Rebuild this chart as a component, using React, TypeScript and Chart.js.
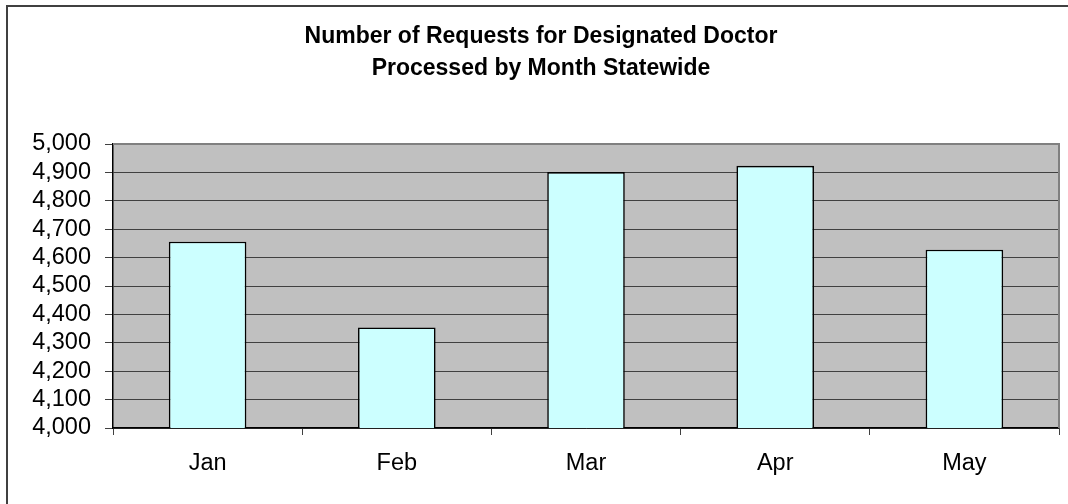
import React, { useEffect, useRef } from "react";
import { Chart, registerables } from "chart.js";

Chart.register(...registerables);

const titleLines = ["Number of Requests for Designated Doctor", "Processed by Month Statewide"];
const months = ["Jan", "Feb", "Mar", "Apr", "May"];
const requests = [4656, 4354, 4901, 4923, 4628];
const yMin = 4000;
const yMax = 5000;
const yStep = 100;

const FONT = "'Liberation Sans', Arial, sans-serif";

const framePlugin = {
  id: "frame",
  beforeDraw(chart: any) {
    const { ctx, chartArea } = chart;
    ctx.save();
    ctx.fillStyle = "#ffffff";
    ctx.fillRect(0, 0, chart.width, chart.height);
    ctx.fillStyle = "#C0C0C0";
    ctx.fillRect(chartArea.left, chartArea.top, chartArea.right - chartArea.left, chartArea.bottom - chartArea.top);
    // outer chart border (left and top visible)
    ctx.strokeStyle = "#404040";
    ctx.lineWidth = 2;
    ctx.beginPath();
    ctx.moveTo(7, chart.height + 5);
    ctx.lineTo(7, 6);
    ctx.lineTo(chart.width + 5, 6);
    ctx.stroke();
    // title
    ctx.fillStyle = "#000000";
    ctx.font = `bold 23px ${FONT}`;
    ctx.textAlign = "center";
    ctx.textBaseline = "middle";
    titleLines.forEach((line, i) => {
      ctx.fillText(line, 541, 37 + i * 32);
    });
    ctx.restore();
  },
  afterDatasetsDraw(chart: any) {
    const { ctx, chartArea } = chart;
    ctx.save();
    ctx.strokeStyle = "#808080";
    ctx.lineWidth = 2;
    ctx.beginPath();
    ctx.moveTo(chartArea.left, chartArea.top);
    ctx.lineTo(chartArea.right, chartArea.top);
    ctx.lineTo(chartArea.right, chartArea.bottom);
    ctx.stroke();
    ctx.restore();
  },
};

export default function App() {
  const ref = useRef<HTMLCanvasElement | null>(null);
  useEffect(() => {
    if (!ref.current) return;
    const chart = new Chart(ref.current, {
      type: "bar",
      data: {
        labels: months,
        datasets: [
          {
            data: requests,
            backgroundColor: "#CCFFFF",
            borderColor: "#000000",
            borderWidth: 1.6,
            categoryPercentage: 1,
            barPercentage: 0.41,
          },
        ],
      },
      options: {
        responsive: false,
        animation: false,
        layout: { padding: { left: 0, right: 9, top: 144, bottom: 0 } },
        plugins: {
          legend: { display: false },
          tooltip: { enabled: false },
          title: { display: false },
        },
        scales: {
          x: {
            grid: {
              display: true,
              offset: true,
              drawOnChartArea: false,
              tickLength: 7,
              color: "#404040",
            },
            border: { display: true, color: "#000000", width: 1.5 },
            ticks: {
              color: "#000000",
              font: { family: FONT, size: 23.5 },
              padding: 14,
            },
            afterFit(scale: any) {
              scale.height = 76;
            },
          },
          y: {
            min: yMin,
            max: yMax,
            grid: {
              color: "#404040",
              lineWidth: 1,
              tickLength: 8,
            },
            border: { display: true, color: "#000000", width: 1.5 },
            ticks: {
              stepSize: yStep,
              autoSkip: false,
              color: "#000000",
              font: { family: FONT, size: 23.5 },
              padding: 14,
              callback: (v: any) => Number(v).toLocaleString("en-US"),
            },
            afterFit(scale: any) {
              scale.width = 113;
            },
          },
        },
      },
      plugins: [framePlugin],
    });
    return () => chart.destroy();
  }, []);
  return (
    <div style={{ position: "absolute", left: 0, top: 0, width: 1068, height: 504 }}>
      <canvas ref={ref} width={1068} height={504} />
    </div>
  );
}
